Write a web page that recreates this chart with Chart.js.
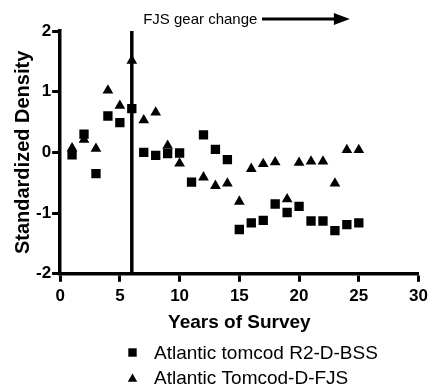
<!DOCTYPE html>
<html><head><meta charset="utf-8">
<script src="https://cdn.jsdelivr.net/npm/chart.js@4"></script>
<style>html,body{margin:0;padding:0;background:#fff}#wrap{width:432px;height:389px}</style>
</head><body><div id="wrap"><canvas id="c" width="432" height="389"></canvas></div>
<script>
// ---- data ----
const years = [1,2,3,4,5,6,7,8,9,10,11,12,13,14,15,16,17,18,19,20,21,22,23,24,25];
const bssValues = [-0.04,0.30,-0.35,0.60,0.49,0.72,0.00,-0.05,-0.02,-0.01,-0.49,0.29,0.05,-0.12,-1.27,-1.16,-1.12,-0.85,-0.99,-0.89,-1.13,-1.13,-1.29,-1.19,-1.16];
const fjsValues = [0.07,0.21,0.06,1.02,0.77,1.51,0.53,0.66,0.11,-0.18,null,-0.41,-0.55,-0.51,-0.81,-0.27,-0.19,-0.16,-0.77,-0.17,-0.15,-0.15,-0.51,0.04,0.04];
const xTicks = [0,5,10,15,20,25,30];
const yTicks = [-2,-1,0,1,2];
const seriesLabels = ['Atlantic tomcod R2-D-BSS','Atlantic Tomcod-D-FJS'];
const xTitle = 'Years of Survey';
const yTitle = 'Standardized Density';
const gearChangeYear = 6;
const gearChangeLabel = 'FJS gear change';
const gearTextYear = 6.95;
const arrowFromYear = 16.9;
const arrowToYear = 24.25;

const FONT = "'Liberation Sans', Arial, Helvetica, sans-serif";

function drawTri(ctx, cx, cy, r) {
  ctx.beginPath();
  for (let i = 0; i < 3; i++) {
    const a = -Math.PI / 2 + i * 2 * Math.PI / 3;
    const px = cx + Math.cos(a) * r, py = cy + Math.sin(a) * r;
    if (i === 0) ctx.moveTo(px, py); else ctx.lineTo(px, py);
  }
  ctx.closePath();
  ctx.fill();
}

const gearPlugin = {
  id: 'gear',
  beforeDatasetsDraw(chart) {
    const {ctx, scales: {x, y}} = chart;
    const px = x.getPixelForValue(gearChangeYear);
    ctx.save();
    ctx.strokeStyle = '#000';
    ctx.lineWidth = 3.5;
    ctx.beginPath();
    ctx.moveTo(px, y.getPixelForValue(y.max));
    ctx.lineTo(px, y.getPixelForValue(y.min));
    ctx.stroke();
    ctx.restore();
  },
  afterDraw(chart) {
    const {ctx, chartArea, scales: {x}} = chart;
    ctx.save();
    // annotation text + arrow
    const ay = chartArea.top - 12;
    ctx.fillStyle = '#000';
    ctx.font = '15px ' + FONT;
    ctx.textBaseline = 'middle';
    ctx.textAlign = 'left';
    ctx.fillText(gearChangeLabel, x.getPixelForValue(gearTextYear), ay + 1);
    const x0 = x.getPixelForValue(arrowFromYear), x1 = x.getPixelForValue(arrowToYear);
    ctx.strokeStyle = '#000';
    ctx.lineWidth = 3;
    ctx.beginPath();
    ctx.moveTo(x0, ay);
    ctx.lineTo(x1 - 14, ay);
    ctx.stroke();
    ctx.beginPath();
    ctx.moveTo(x1, ay);
    ctx.lineTo(x1 - 16, ay - 6);
    ctx.lineTo(x1 - 16, ay + 6);
    ctx.closePath();
    ctx.fill();
    // legend
    const ds = chart.data.datasets;
    const lx = 132.5, tx = 154;
    const rows = [352.5, 378];
    ctx.font = '19px ' + FONT;
    ds.forEach((d, i) => {
      const cy = rows[i];
      if (d.pointStyle === 'rect') {
        ctx.fillRect(lx - 4.2, cy - 4.2, 8.4, 8.4);
      } else {
        drawTri(ctx, lx, cy + 1, 5.5);
      }
      ctx.fillText(d.label, tx, cy + 1);
    });
    ctx.restore();
  }
};

const tickFont = {family: FONT, size: 17, weight: 'bold'};

new Chart(document.getElementById('c'), {
  type: 'scatter',
  data: {
    datasets: [
      {
        label: seriesLabels[0],
        data: years.map((yr, i) => ({x: yr, y: bssValues[i]})),
        pointStyle: 'rect', pointRadius: 6.6, pointHoverRadius: 6.6,
        backgroundColor: '#000', borderColor: '#000', borderWidth: 0
      },
      {
        label: seriesLabels[1],
        data: years.map((yr, i) => ({x: yr, y: fjsValues[i]})),
        pointStyle: 'triangle', pointRadius: 6.2, pointHoverRadius: 6.2,
        backgroundColor: '#000', borderColor: '#000', borderWidth: 0
      }
    ]
  },
  options: {
    responsive: false,
    animation: false,
    devicePixelRatio: 1,
    layout: {padding: {left: 13, top: 31, right: 12, bottom: 55}},
    plugins: {legend: {display: false}, tooltip: {enabled: false}},
    scales: {
      x: {
        type: 'linear', min: 0, max: 30,
        afterBuildTicks: s => { s.ticks = xTicks.map(v => ({value: v})); },
        border: {display: true, color: '#000', width: 3.5},
        grid: {display: true, drawOnChartArea: false, drawTicks: true, tickLength: 8, tickWidth: 3, tickColor: '#000'},
        ticks: {font: tickFont, color: '#000', padding: 4, maxRotation: 0, autoSkip: false},
        title: {display: true, text: xTitle, color: '#000', font: {family: FONT, size: 19, weight: 'bold'}, padding: {top: 1, bottom: 0}}
      },
      y: {
        type: 'linear', min: -2, max: 2,
        afterBuildTicks: s => { s.ticks = yTicks.map(v => ({value: v})); },
        border: {display: true, color: '#000', width: 3.5},
        grid: {display: true, drawOnChartArea: false, drawTicks: true, tickLength: 8, tickWidth: 3, tickColor: '#000'},
        ticks: {font: tickFont, color: '#000', padding: 1, autoSkip: false},
        title: {display: true, text: yTitle, color: '#000', font: {family: FONT, size: 20, weight: 'bold', lineHeight: 1}, padding: {top: 0, bottom: 2}}
      }
    }
  },
  plugins: [gearPlugin]
});
</script>
</body></html>
